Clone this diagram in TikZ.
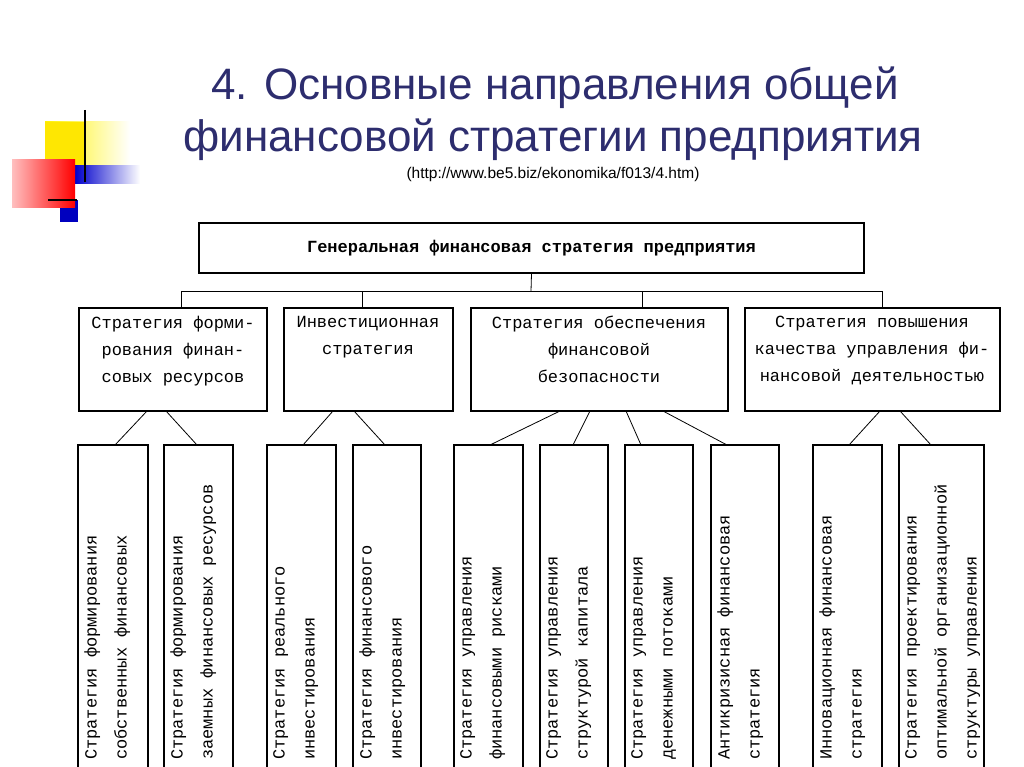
\documentclass[tikz,border=0pt]{standalone}
\usepackage{fontspec}
\setmainfont{Liberation Sans}
\newfontfamily\boxfont{Liberation Mono}
\begin{document}
\begin{tikzpicture}[x=1pt,y=-1pt,
  bx/.style={draw,line width=1.2pt,fill=white},
  ln/.style={line width=0.8pt},
  vt/.style={rotate=90,anchor=north west,align=left,font=\boxfont\fontsize{17}{30}\selectfont,inner sep=0pt},
  mt/.style={align=center,font=\boxfont\fontsize{17}{27}\selectfont,inner sep=0pt,anchor=north}]
\useasboundingbox (0,0) rectangle (1024,767);
\clip (0,0) rectangle (1024,767);
% logo
\shade[left color=yellow!90!orange, right color=white] (45,122) rectangle (130,180);
\fill[yellow!90!orange] (45,122) rectangle (85,180);
\shade[left color=blue!80!black, right color=white] (75,166) rectangle (140,184);
\fill[blue!75!black] (60,200) rectangle (78,222);
\shade[top color=red!30, bottom color=white, left color=red!25, right color=red] (12,160) rectangle (75,208);
\draw[line width=2.5pt] (85,110) -- (85,182);
\draw[line width=2.5pt] (48,200) -- (77,200);
% title
\definecolor{ttl}{RGB}{45,45,110}
\node[text=ttl,font=\fontsize{44}{48}\selectfont] (t1) at (555,88) {4. Основные направления общей};
\node[text=ttl,font=\fontsize{44}{48}\selectfont] (t2) at (553,140) {финансовой стратегии предприятия};
\node[font=\fontsize{15.5}{17}\selectfont] (t3) at (553,174) {(http://www.be5.biz/ekonomika/f013/4.htm)};
% top box
\node[bx,minimum width=665,minimum height=50,font=\boxfont\bfseries\fontsize{17}{20}\selectfont] (top) at (531.5,248) {Генеральная финансовая стратегия предприятия};
% mid boxes
\draw[bx] (79,308) rectangle (267,411);
\draw[bx] (284,308) rectangle (453,411);
\draw[bx] (471,308) rectangle (728,411);
\draw[bx] (745,308) rectangle (1000,411);
\node[mt] (m1) at (173,316) {Стратегия форми-\\рования финан-\\совых ресурсов};
\node[mt] (m2) at (368,316) {Инвестиционная\\стратегия};
\node[mt] (m3) at (599,316) {Стратегия обеспечения\\финансовой\\безопасности};
\node[mt] (m4) at (872,316) {Стратегия повышения\\качества управления фи-\\нансовой деятельностью};
% tree
\coordinate (j) at (531,291);
\draw[ln] (top.south) -- (j);
\draw[ln] (181,291) -- (882,291);
\foreach \x in {181,362,642,882} \draw[ln] (\x,291) -- (\x,308);
% bottom boxes
\foreach \a/\b in {78/148,164/233,267/336,353/421,454/523,540/608,625/693,711/779,813/882,899/984}
  \draw[bx] (\a,445) rectangle (\b,790);
\node[vt] (b1) at (84,760) {Стратегия формирования\\собственных финансовых};
\node[vt] (b2) at (170,760) {Стратегия формирования\\заемных финансовых ресурсов};
\node[vt] (b3) at (273,760) {Стратегия реального\\инвестирования};
\node[vt] (b4) at (359,760) {Стратегия финансового\\инвестирования};
\node[vt] (b5) at (460,760) {Стратегия управления\\финансовыми рисками};
\node[vt] (b6) at (546,760) {Стратегия управления\\структурой капитала};
\node[vt] (b7) at (631,760) {Стратегия управления\\денежными потоками};
\node[vt] (b8) at (717,760) {Антикризисная финансовая\\стратегия};
\node[vt] (b9) at (819,760) {Инновационная финансовая\\стратегия};
\node[vt] (b10) at (905,760) {Стратегия проектирования\\оптимальной организационной\\структуры управления};
% connectors
\foreach \p/\q in {147/115,166/197,333/303,354/385,560/490,590/573,626/641,663/727,880/849,900/931}
  \draw[ln] (\p,411) -- (\q,445);
\end{tikzpicture}
\end{document}
